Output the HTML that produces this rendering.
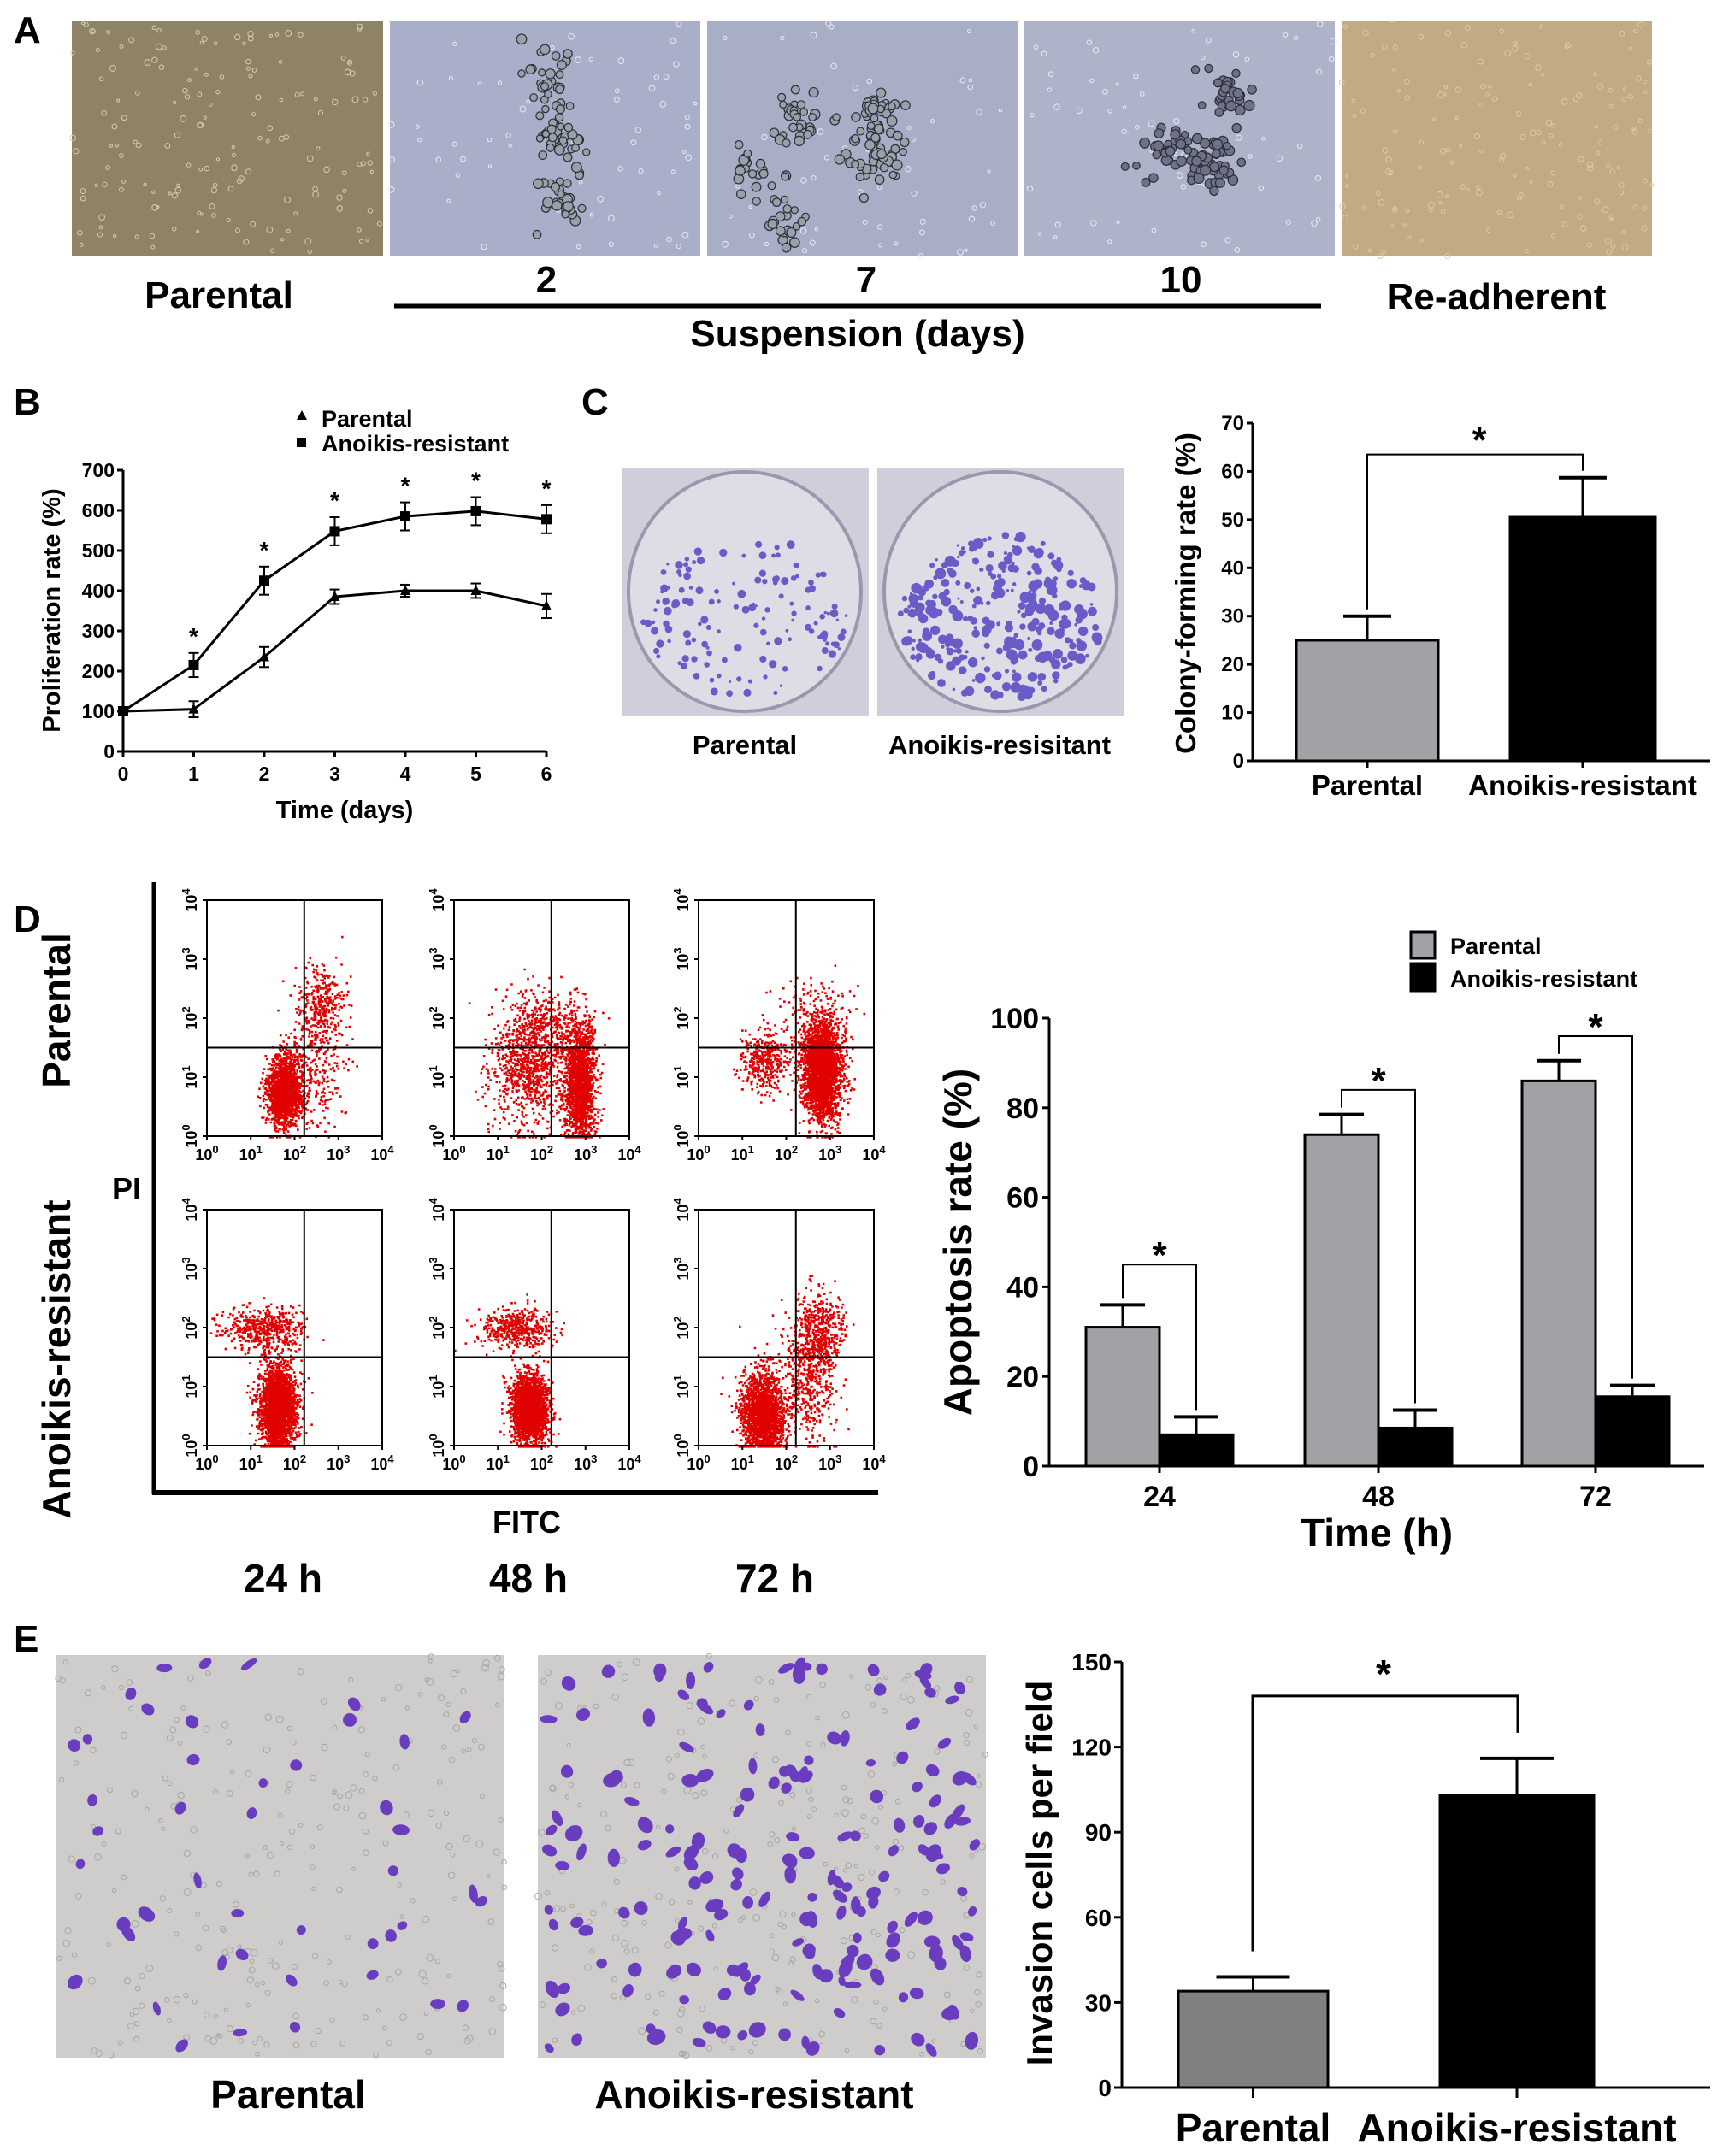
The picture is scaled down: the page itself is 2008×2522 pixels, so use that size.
<!DOCTYPE html>
<html><head><meta charset="utf-8"><style>
html,body{margin:0;padding:0;background:#fff}
svg{display:block}
text{font-family:"Liberation Sans",Arial,sans-serif;font-weight:bold;fill:#000}
</style></head><body>
<svg id="fig" width="2008" height="2522" viewBox="0 0 2008 2522" xmlns="http://www.w3.org/2000/svg">
<rect width="2008" height="2522" fill="#fff"/>
<text x="16" y="50" font-size="44">A</text>
<text x="16" y="485" font-size="44">B</text>
<text x="680" y="485" font-size="44">C</text>
<text x="16" y="1090" font-size="44">D</text>
<text x="16" y="1932" font-size="44">E</text>
<text x="256" y="360" font-size="44" text-anchor="middle">Parental</text>
<text x="639" y="342" font-size="44" text-anchor="middle">2</text>
<text x="1013" y="342" font-size="44" text-anchor="middle">7</text>
<text x="1381" y="342" font-size="44" text-anchor="middle">10</text>
<line x1="461" y1="358" x2="1545" y2="358" stroke="#000" stroke-width="5"/>
<text x="1003" y="405" font-size="44" text-anchor="middle">Suspension (days)</text>
<text x="1750" y="362" font-size="44" text-anchor="middle">Re-adherent</text>
<g id="gA"></g>
<g id="gB"></g>
<g id="gC"></g>
<g id="gD"></g>
<g id="gDbar"></g>
<g id="gE"></g>
</svg>
<script>
// ===== Chart data =====
const profDays = [0,1,2,3,4,5,6];
const profParental = [100,105,235,385,400,400,362];
const profParentalErr = [10,20,25,18,15,18,30];
const profResistant = [100,215,425,548,585,598,578];
const profResistantErr = [10,30,35,35,35,35,35];
const profTicks = [0,100,200,300,400,500,600,700];

const colonyCats = ["Parental","Anoikis-resistant"];
const colonyValues = [25,50.5];
const colonyErr = [5,8.2];
const colonyTicks = [0,10,20,30,40,50,60,70];

const apopCats = ["24","48","72"];
const apopParental = [31,74,86];
const apopParentalErr = [5,4.5,4.5];
const apopResistant = [7,8.5,15.5];
const apopResistantErr = [4,4,2.5];
const apopTicks = [0,20,40,60,80,100];
const apopBracket = [45,84,96];

const invCats = ["Parental","Anoikis-resistant"];
const invValues = [34,103];
const invErr = [5,13];
const invTicks = [0,30,60,90,120,150];

// flow cytometry clusters: [fitcLog, piLog, sdX, sdY, count]
const flowP24 = [[1.75,0.75,0.2,0.3,1600],[2.6,2.3,0.28,0.3,300],[2.4,1.2,0.4,0.5,300]];
const flowP48 = [[1.7,1.2,0.45,0.5,900],[2.85,0.9,0.17,0.5,1800],[2.1,1.9,0.5,0.3,300]];
const flowP72 = [[2.8,1.1,0.22,0.4,2800],[1.5,1.3,0.3,0.25,400],[2.6,2.1,0.4,0.3,150]];
const flowA24 = [[1.6,0.65,0.2,0.35,2600],[1.3,2.0,0.45,0.18,500]];
const flowA48 = [[1.7,0.65,0.2,0.3,2200],[1.4,2.0,0.4,0.18,450]];
const flowA72 = [[1.45,0.55,0.25,0.35,1800],[2.7,1.9,0.3,0.35,500],[2.5,1.0,0.3,0.5,400]];

const NS = "http://www.w3.org/2000/svg";
let seed = 12345;
function rnd(){ seed = (seed*16807) % 2147483647; return (seed-1)/2147483646; }
function gauss(){ let u=rnd()||1e-6, v=rnd(); return Math.sqrt(-2*Math.log(u))*Math.cos(2*Math.PI*v); }
function el(parent, tag, attrs, name){
  const e = document.createElementNS(NS, tag);
  for (const k in attrs) e.setAttribute(k, attrs[k]);
  
  
  parent.appendChild(e);
  return e;
}
function txt(parent, x, y, s, size, name, anchor, extra){
  const t = el(parent, 'text', Object.assign({x:x, y:y, 'font-size':size, 'text-anchor':anchor||'middle'}, extra||{}), name);
  t.textContent = s;
  return t;
}
function line(p,x1,y1,x2,y2,w,name,col){ return el(p,'line',{x1:x1,y1:y1,x2:x2,y2:y2,stroke:col||'#000','stroke-width':w},name); }

// ===== Panel A micrographs =====
const gA = document.getElementById('gA');
const aImgs = [[84,448,'#8e8366','parental-micrograph'],[456,819,'#a9afc8','suspension-day2-micrograph'],[827,1190,'#a8aec6','suspension-day7-micrograph'],[1198,1561,'#aeb3c9','suspension-day10-micrograph'],[1569,1932,'#c2ab82','readherent-micrograph']];
aImgs.forEach((m,i)=>{
  const g = el(gA,'g',{},m[3]);
  el(g,'rect',{x:m[0],y:24,width:m[1]-m[0],height:276,fill:m[2]},m[3]+'-bg');
  const n = (i==0||i==4)?160:60;
  for(let k=0;k<n;k++){
    el(g,'circle',{cx:m[0]+rnd()*(m[1]-m[0]),cy:24+rnd()*276,r:1.5+rnd()*2,fill:'none',stroke:(i==0||i==4)?'#d8ccaa':'#e8ecf4','stroke-width':1},'cell');
  }
  if(i>=1&&i<=3){
    const cl = i==1?[[0.5,0.25,25],[0.55,0.5,35],[0.55,0.75,30]]:(i==2?[[0.3,0.4,30],[0.55,0.4,40],[0.55,0.6,40],[0.15,0.65,20],[0.25,0.85,20]]:[[0.65,0.3,30],[0.6,0.6,55],[0.45,0.55,30]]);
    cl.forEach(c=>{
      for(let k=0;k<c[2];k++){
        el(g,'circle',{cx:m[0]+(c[0]+gauss()*0.04)*(m[1]-m[0]),cy:24+(c[1]+gauss()*0.06)*276,r:4+rnd()*2,fill:i==3?'#6f7284':'#9aa0a8',stroke:'#2a2e3c','stroke-width':1.2},'cell-cluster');
      }
    });
  }
});

// ===== Panel B proliferation =====
const gB = document.getElementById('gB');
const bx0=144,bx1=639,by0=879,by1=550;
const bX = d=> bx0+(d-0)/(6-0)*(bx1-bx0);
const bY = v=> by0-(v/700)*(by0-by1);
line(gB,bx0,by1,bx0,by0,3,'prolif-y-axis');
line(gB,bx0,by0,bx1,by0,3,'prolif-x-axis');
profTicks.forEach(t=>{
  line(gB,bx0-7,bY(t),bx0,bY(t),3,'prolif-y-tick');
  txt(gB,bx0-10,bY(t)+8,String(t),23,'prolif-y-tick-label','end');
});
profDays.forEach(d=>{
  line(gB,bX(d),by0,bX(d),by0+7,3,'prolif-x-tick');
  txt(gB,bX(d),by0+34,String(d),23,'prolif-x-tick-label');
});
txt(gB,403,957,'Time (days)',29,'prolif-x-title');
txt(gB,0,0,'Proliferation rate (%)',29,'prolif-y-title','middle',{transform:'translate(70,714) rotate(-90)'});
function series(vals,errs,name,marker){
  let d='';
  vals.forEach((v,i)=>{ d+=(i?'L':'M')+bX(profDays[i])+' '+bY(v); });
  el(gB,'path',{d:d,fill:'none',stroke:'#000','stroke-width':3},name+'-line');
  vals.forEach((v,i)=>{
    const x=bX(profDays[i]);
    line(gB,x,bY(v-errs[i]),x,bY(v+errs[i]),2,name+'-errorbar');
    line(gB,x-6,bY(v+errs[i]),x+6,bY(v+errs[i]),2,name+'-errorcap');
    line(gB,x-6,bY(v-errs[i]),x+6,bY(v-errs[i]),2,name+'-errorcap');
    if(marker=='tri') el(gB,'path',{d:`M${x} ${bY(v)-7}L${x+6} ${bY(v)+5}L${x-6} ${bY(v)+5}Z`,fill:'#000'},name+'-point');
    else el(gB,'rect',{x:x-6,y:bY(v)-6,width:12,height:12,fill:'#000'},name+'-point');
  });
}
series(profParental,profParentalErr,'parental','tri');
series(profResistant,profResistantErr,'resistant','sq');
profResistant.forEach((v,i)=>{ if(i>0) txt(gB,bX(profDays[i]),bY(v+profResistantErr[i])-10,'*',28,'prolif-significance'); });
el(gB,'path',{d:'M353 480L359 491L347 491Z',fill:'#000'},'legend-parental-marker');
txt(gB,376,499,'Parental',27,'legend-parental-label','start');
el(gB,'rect',{x:347,y:512,width:11,height:11,fill:'#000'},'legend-resistant-marker');
txt(gB,376,528,'Anoikis-resistant',27,'legend-resistant-label','start');

// ===== Panel C =====
const gC = document.getElementById('gC');
[[727,'parental-plate',140],[1026,'resistant-plate',320]].forEach(p=>{
  const g=el(gC,'g',{},p[1]);
  el(g,'rect',{x:p[0],y:547,width:289,height:290,fill:'#cfcedb'},p[1]+'-bg');
  el(g,'ellipse',{cx:p[0]+144,cy:692,rx:136,ry:140,fill:'#dedde6',stroke:'#9a98ac','stroke-width':4},p[1]+'-dish');
  for(let k=0;k<p[2];k++){
    const a=rnd()*Math.PI*2, r=Math.sqrt(rnd());
    const cy=692+r*120*Math.sin(a)*0.8+30;
    el(g,'circle',{cx:p[0]+144+r*120*Math.cos(a),cy:cy,r:1.5+rnd()*(p[2]>200?5:3.5),fill:'#6a5cc8'},'colony');
  }
});
txt(gC,871,882,'Parental',31,'c-parental-plate-label');
txt(gC,1169,882,'Anoikis-resisitant',31,'c-resistant-plate-label');
const cx0=1465,cy0=890,cy1=495;
const cY=v=>cy0-v/70*(cy0-cy1);
const cBarX=[1516,1766], cBarW=[166,170];
line(gC,cx0,cy1,cx0,cy0,3,'colony-y-axis');
line(gC,cx0,cy0,2000,cy0,3,'colony-x-axis');
colonyTicks.forEach(t=>{
  line(gC,cx0-7,cY(t),cx0,cY(t),3,'colony-y-tick');
  txt(gC,cx0-10,cY(t)+8,String(t),24,'colony-y-tick-label','end');
});
colonyValues.forEach((v,i)=>{
  const x=cBarX[i],w=cBarW[i],mx=x+w/2;
  line(gC,mx,cY(v),mx,cY(v+colonyErr[i]),3,'colony-errorbar');
  line(gC,mx-28,cY(v+colonyErr[i]),mx+28,cY(v+colonyErr[i]),4,'colony-errorcap');
  el(gC,'rect',{x:x,y:cY(v),width:w,height:cY(0)-cY(v),fill:i?'#000':'#a2a2a6',stroke:'#000','stroke-width':3},'colony-bar-'+i);
  line(gC,mx,cy0,mx,cy0+8,3,'colony-x-tick');
  txt(gC,mx,cy0+40,colonyCats[i],33,'colony-x-label');
});
(function(){
  const y=cY(63.5), xa=cBarX[0]+cBarW[0]/2, xb=cBarX[1]+cBarW[1]/2;
  el(gC,'path',{d:`M${xa} ${cY(colonyValues[0]+colonyErr[0])-8}V${y}H${xb}V${cY(colonyValues[1]+colonyErr[1])-8}`,fill:'none',stroke:'#000','stroke-width':2},'colony-significance-bracket');
  txt(gC,(xa+xb)/2+5,y-2,'*',44,'colony-significance-star');
})();
txt(gC,0,0,'Colony-forming rate (%)',33,'colony-y-title','middle',{transform:'translate(1398,694) rotate(-90)'});

// ===== Panel D flow cytometry =====
const gD = document.getElementById('gD');
line(gD,180,1032,180,1748,5,'d-left-axis');
line(gD,178,1746,1027,1746,6,'d-bottom-axis');
txt(gD,148,1403,'PI',36,'pi-label');
txt(gD,616,1793,'FITC',36,'fitc-label');
txt(gD,331,1862,'24 h',46,'time-24h-label');
txt(gD,618,1862,'48 h',46,'time-48h-label');
txt(gD,906,1862,'72 h',46,'time-72h-label');
txt(gD,0,0,'Parental',46,'row-parental-label','middle',{transform:'translate(82,1182) rotate(-90)'});
txt(gD,0,0,'Anoikis-resistant',46,'row-resistant-label','middle',{transform:'translate(82,1590) rotate(-90)'});
const flowCols=[242,531,817], flowRows=[1053,1415], fw=205, fh=276;
const flowSets=[[flowP24,flowP48,flowP72],[flowA24,flowA48,flowA72]];
flowRows.forEach((y0,r)=>{
  flowCols.forEach((x0,c)=>{
    const g=el(gD,'g',{},'flow-plot-'+(r?'resistant':'parental')+'-'+(c*24+24)+'h');
    const fx=v=>x0+v/4*fw, fy=v=>y0+fh-v/4*fh;
    let d='';
    flowSets[r][c].forEach(cl=>{
      for(let k=0;k<cl[4];k++){
        let a=cl[0]+gauss()*cl[2], b=cl[1]+gauss()*cl[3];
        a=Math.max(0,Math.min(3.98,a)); b=Math.max(0,Math.min(3.98,b));
        const X=fx(a).toFixed(1), Y=fy(b).toFixed(1);
        d+=`M${X} ${Y}h2.6v2.6h-2.6z`;
      }
    });
    el(g,'path',{d:d,fill:'#e00000'},'flow-events');
    el(g,'rect',{x:x0,y:y0,width:fw,height:fh,fill:'none',stroke:'#000','stroke-width':2},'flow-frame');
    line(g,fx(2.22),y0,fx(2.22),y0+fh,2,'quadrant-vertical');
    line(g,x0,fy(1.5),x0+fw,fy(1.5),2,'quadrant-horizontal');
    for(let e=0;e<=4;e++){
      const tx=el(g,'text',{x:fx(e),y:y0+fh+28,'font-size':18,'text-anchor':'middle','font-weight':'normal'},'flow-x-tick-label');
      tx.innerHTML='10<tspan dy="-8" font-size="13">'+e+'</tspan>';
      const ty=el(g,'text',{x:0,y:0,'font-size':18,'text-anchor':'middle','font-weight':'normal',transform:`translate(${x0-12},${fy(e)}) rotate(-90)`},'flow-y-tick-label');
      ty.innerHTML='10<tspan dy="-8" font-size="13">'+e+'</tspan>';
      line(g,fx(e),y0+fh,fx(e),y0+fh+5,2,'flow-x-tick');
      line(g,x0-5,fy(e),x0,fy(e),2,'flow-y-tick');
    }
  });
});

// ===== Panel D apoptosis bars =====
const gDb = document.getElementById('gDbar');
const ax0=1227, ay0=1715, ay1=1191;
const aY=v=>ay0-v/100*(ay0-ay1);
const aGroupX=[1270,1526,1780], aw=86;
line(gDb,ax0,ay1,ax0,ay0,3,'apop-y-axis');
line(gDb,ax0,ay0,1993,ay0,3,'apop-x-axis');
apopTicks.forEach(t=>{
  line(gDb,ax0-8,aY(t),ax0,aY(t),3,'apop-y-tick');
  txt(gDb,ax0-12,aY(t)+12,String(t),34,'apop-y-tick-label','end');
});
apopCats.forEach((c,i)=>{
  const xp=aGroupX[i], xr=xp+aw;
  [[apopParental[i],apopParentalErr[i],xp,'#a2a2a6','apop-bar-parental'],[apopResistant[i],apopResistantErr[i],xr,'#000','apop-bar-resistant']].forEach(b=>{
    const mx=b[2]+aw/2;
    line(gDb,mx,aY(b[0]),mx,aY(b[0]+b[1]),3,'apop-errorbar');
    line(gDb,mx-26,aY(b[0]+b[1]),mx+26,aY(b[0]+b[1]),4,'apop-errorcap');
    el(gDb,'rect',{x:b[2],y:aY(b[0]),width:aw,height:aY(0)-aY(b[0]),fill:b[3],stroke:'#000','stroke-width':3},b[4]+'-'+c);
  });
  line(gDb,xr,ay0,xr,ay0+8,3,'apop-x-tick');
  txt(gDb,xr,ay0+47,c,34,'apop-x-tick-label');
  const by=aY(apopBracket[i]), a=xp+aw/2, bb=xr+aw/2;
  el(gDb,'path',{d:`M${a} ${aY(apopParental[i]+apopParentalErr[i])-8}V${by}H${bb}V${aY(apopResistant[i]+apopResistantErr[i])-8}`,fill:'none',stroke:'#000','stroke-width':2},'apop-significance-bracket');
  txt(gDb,(a+bb)/2,by+4,'*',44,'apop-significance-star');
});
txt(gDb,1610,1809,'Time (h)',46,'apop-x-title');
txt(gDb,0,0,'Apoptosis rate (%)',46,'apop-y-title','middle',{transform:'translate(1136,1453) rotate(-90)'});
el(gDb,'rect',{x:1650,y:1090,width:28,height:31,fill:'#a2a2a6',stroke:'#000','stroke-width':3},'legend-parental-swatch');
el(gDb,'rect',{x:1650,y:1127,width:28,height:32,fill:'#000',stroke:'#000','stroke-width':3},'legend-resistant-swatch');
txt(gDb,1696,1116,'Parental',27,'apop-legend-parental','start');
txt(gDb,1696,1154,'Anoikis-resistant',27,'apop-legend-resistant','start');

// ===== Panel E =====
const gE = document.getElementById('gE');
[[66,'e-parental-micrograph',45],[629,'e-resistant-micrograph',190]].forEach(p=>{
  const g=el(gE,'g',{},p[1]);
  el(g,'rect',{x:p[0],y:1936,width:524,height:471,fill:'#cfcdcb'},p[1]+'-bg');
  for(let k=0;k<260;k++) el(g,'circle',{cx:p[0]+rnd()*524,cy:1936+rnd()*471,r:2+rnd()*2,fill:'none',stroke:'#a8a6a4','stroke-width':1},'pore');
  for(let k=0;k<p[2];k++){
    const cx=p[0]+8+rnd()*508, cy=1944+rnd()*455;
    el(g,'ellipse',{cx:cx,cy:cy,rx:5+rnd()*6,ry:4+rnd()*5,fill:'#6a3cc0',transform:`rotate(${rnd()*180} ${cx} ${cy})`},'invaded-cell');
  }
});
txt(gE,337,2466,'Parental',46,'e-parental-label');
txt(gE,882,2466,'Anoikis-resistant',46,'e-resistant-label');
const ex0=1312, ey0=2442, ey1=1944;
const eY=v=>ey0-v/150*(ey0-ey1);
const eBarX=[1378,1684], eBarW=[175,180];
line(gE,ex0,ey1,ex0,ey0,3,'inv-y-axis');
line(gE,ex0,ey0,2000,ey0,3,'inv-x-axis');
invTicks.forEach(t=>{
  line(gE,ex0-9,eY(t),ex0,eY(t),3,'inv-y-tick');
  txt(gE,ex0-12,eY(t)+10,String(t),28,'inv-y-tick-label','end',{'font-weight':'normal'});
});
invValues.forEach((v,i)=>{
  const x=eBarX[i],w=eBarW[i],mx=x+w/2;
  line(gE,mx,eY(v),mx,eY(v+invErr[i]),3,'inv-errorbar');
  line(gE,mx-43,eY(v+invErr[i]),mx+43,eY(v+invErr[i]),4,'inv-errorcap');
  el(gE,'rect',{x:x,y:eY(v),width:w,height:eY(0)-eY(v),fill:i?'#000':'#808080',stroke:'#000','stroke-width':3},'inv-bar-'+i);
  line(gE,mx,ey0,mx,ey0+12,3,'inv-x-tick');
  txt(gE,mx,ey0+63,invCats[i],46,'inv-x-label');
});
(function(){
  const y=eY(138), xa=1465, xb=1775;
  el(gE,'path',{d:`M${xa} ${eY(invValues[0]+invErr[0])-30}V${y}H${xb}V${eY(invValues[1]+invErr[1])-30}`,fill:'none',stroke:'#000','stroke-width':3},'inv-significance-bracket');
  txt(gE,1618,y-10,'*',46,'inv-significance-star');
})();
txt(gE,0,0,'Invasion cells per field',42,'inv-y-title','middle',{transform:'translate(1230,2191) rotate(-90)'});
</script>
</body></html>
